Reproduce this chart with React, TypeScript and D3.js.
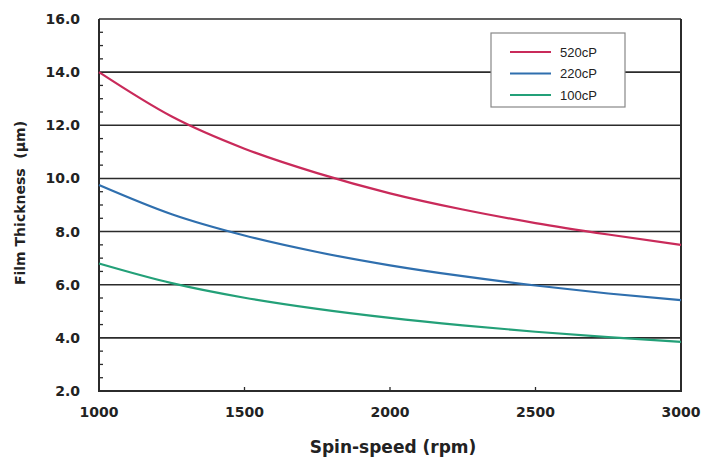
import React, { useEffect, useRef } from "react";
import * as d3 from "d3";

const speeds = [1000, 1250, 1500, 1750, 2000, 2250, 2500, 2750, 3000];
const cp520 = [14.0, 12.33, 11.12, 10.2, 9.44, 8.83, 8.32, 7.89, 7.5];
const cp220 = [9.75, 8.65, 7.85, 7.23, 6.73, 6.32, 5.97, 5.67, 5.42];
const cp100 = [6.8, 6.06, 5.51, 5.09, 4.75, 4.47, 4.23, 4.03, 3.85];
const seriesNames = ["520cP", "220cP", "100cP"];
const seriesColors = ["#c92a5a", "#2f6fae", "#23a078"];
const xTicks = [1000, 1500, 2000, 2500, 3000];
const yTicks = [2, 4, 6, 8, 10, 12, 14, 16];

const W = 701;
const H = 457;
const m = { left: 99, right: 20, top: 19, bottom: 66 };

export default function App() {
  const ref = useRef<SVGSVGElement>(null);

  useEffect(() => {
    const svg = d3.select(ref.current);
    svg.selectAll("*").remove();

    const x = d3.scaleLinear().domain([1000, 3000]).range([m.left, W - m.right]);
    const y = d3.scaleLinear().domain([2, 16]).range([H - m.bottom, m.top]);
    const ink = "#2b2b2b";
    const font = "Verdana, DejaVu Sans, sans-serif";

    // gridlines
    svg
      .append("g")
      .selectAll("line")
      .data(yTicks.filter((t) => t > 2))
      .enter()
      .append("line")
      .attr("x1", x(1000))
      .attr("x2", x(3000))
      .attr("y1", (d) => y(d))
      .attr("y2", (d) => y(d))
      .attr("stroke", ink)
      .attr("stroke-width", 1.6);

    // minor y ticks
    const minor = d3.range(2.5, 16, 0.5).filter((v) => v % 2 !== 0);
    svg
      .append("g")
      .selectAll("line")
      .data(minor)
      .enter()
      .append("line")
      .attr("x1", x(1000))
      .attr("x2", x(1000) + 4)
      .attr("y1", (d) => y(d))
      .attr("y2", (d) => y(d))
      .attr("stroke", ink)
      .attr("stroke-width", 1.3);

    // x ticks inward
    svg
      .append("g")
      .selectAll("line")
      .data(xTicks.slice(1, -1))
      .enter()
      .append("line")
      .attr("x1", (d) => x(d))
      .attr("x2", (d) => x(d))
      .attr("y1", y(2))
      .attr("y2", y(2) - 4)
      .attr("stroke", ink)
      .attr("stroke-width", 1.3);

    // frame: left, bottom, right
    svg
      .append("path")
      .attr("d", `M${x(1000)},${y(16)}V${y(2)}H${x(3000)}V${y(16)}`)
      .attr("fill", "none")
      .attr("stroke", ink)
      .attr("stroke-width", 2);

    // curves
    const all = [cp520, cp220, cp100];
    const line = d3
      .line<number>()
      .x((_, i) => x(speeds[i]))
      .y((d) => y(d))
      .curve(d3.curveMonotoneX);
    all.forEach((vals, k) => {
      svg
        .append("path")
        .attr("d", line(vals))
        .attr("fill", "none")
        .attr("stroke", seriesColors[k])
        .attr("stroke-width", 2.2);
    });

    // tick labels
    svg
      .append("g")
      .selectAll("text")
      .data(yTicks)
      .enter()
      .append("text")
      .attr("x", 80)
      .attr("y", (d) => y(d))
      .attr("dy", "0.36em")
      .attr("text-anchor", "end")
      .attr("font-family", font)
      .attr("font-weight", "bold")
      .attr("font-size", 14)
      .attr("fill", "#222")
      .text((d) => d.toFixed(1));

    svg
      .append("g")
      .selectAll("text")
      .data(xTicks)
      .enter()
      .append("text")
      .attr("x", (d) => x(d))
      .attr("y", 417)
      .attr("text-anchor", "middle")
      .attr("font-family", font)
      .attr("font-weight", "bold")
      .attr("font-size", 14)
      .attr("fill", "#222")
      .text((d) => d);

    // axis titles
    svg
      .append("text")
      .attr("x", 393)
      .attr("y", 453)
      .attr("text-anchor", "middle")
      .attr("font-family", font)
      .attr("font-weight", "bold")
      .attr("font-size", 17)
      .attr("fill", "#222")
      .text("Spin-speed (rpm)");

    svg
      .append("text")
      .attr("transform", "translate(25,203) rotate(-90)")
      .attr("text-anchor", "middle")
      .attr("font-family", font)
      .attr("font-weight", "bold")
      .attr("font-size", 14)
      .attr("fill", "#222")
      .style("white-space", "pre")
      .text("Film Thickness  (µm)");

    // legend
    const lg = svg.append("g").attr("transform", "translate(491,33)");
    lg.append("rect")
      .attr("width", 134)
      .attr("height", 74)
      .attr("fill", "#fff")
      .attr("stroke", "#888")
      .attr("stroke-width", 1.2);
    seriesNames.forEach((name, k) => {
      const yy = 19 + k * 21.5;
      lg.append("line")
        .attr("x1", 19)
        .attr("x2", 60)
        .attr("y1", yy)
        .attr("y2", yy)
        .attr("stroke", seriesColors[k])
        .attr("stroke-width", 2.2);
      lg.append("text")
        .attr("x", 69)
        .attr("y", yy)
        .attr("dy", "0.36em")
        .attr("font-family", "Liberation Sans, Arial, sans-serif")
        .attr("font-size", 13)
        .attr("fill", "#222")
        .text(name);
    });
  }, []);

  return (
    <svg
      ref={ref}
      width={W}
      height={H}
      style={{ position: "absolute", left: 0, top: 0, background: "#fff" }}
    />
  );
}
